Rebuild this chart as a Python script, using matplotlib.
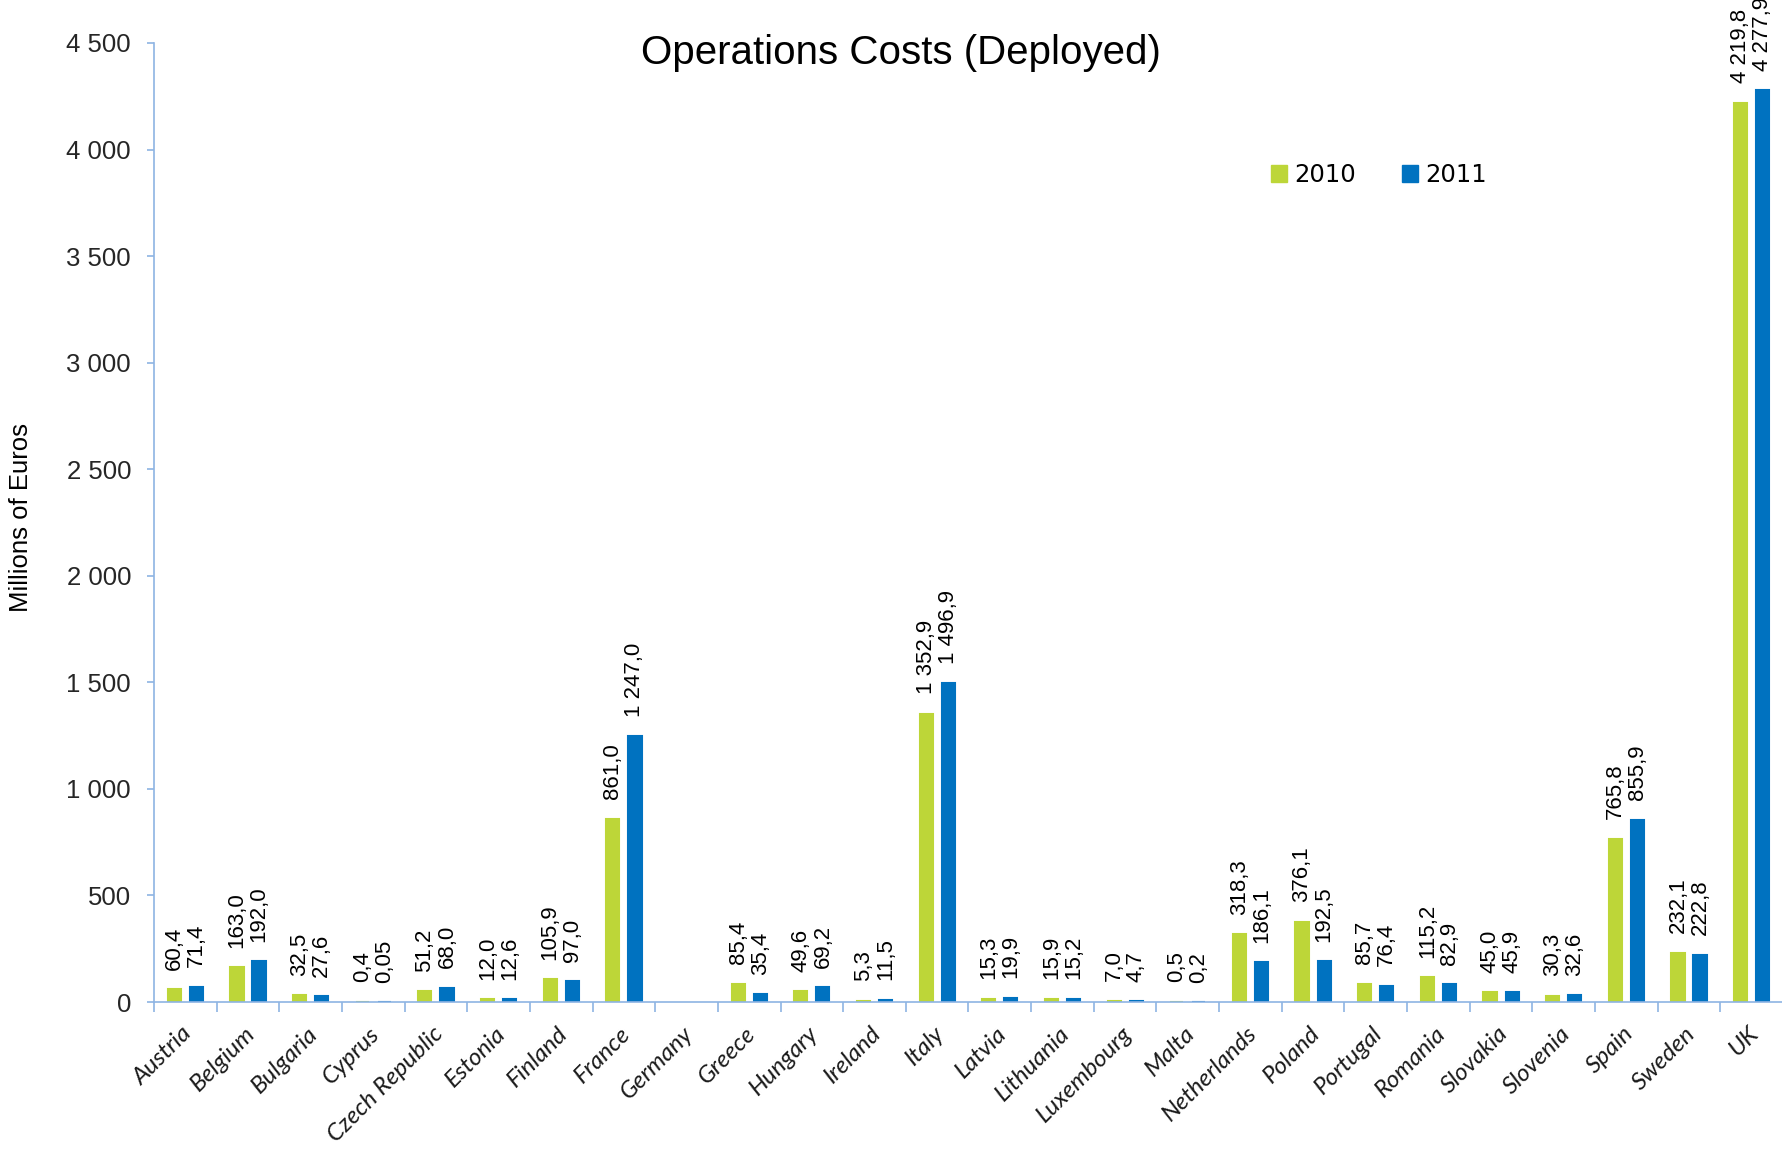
"""Operations Costs (Deployed): grouped bar chart, 2010 vs 2011."""

import matplotlib

matplotlib.use("Agg")
import matplotlib.pyplot as plt
import matplotlib.transforms as mtransforms
import numpy as np
from matplotlib.patches import Patch

countries = [
    "Austria", "Belgium", "Bulgaria", "Cyprus", "Czech Republic", "Estonia",
    "Finland", "France", "Germany", "Greece", "Hungary", "Ireland", "Italy",
    "Latvia", "Lithuania", "Luxembourg", "Malta", "Netherlands", "Poland",
    "Portugal", "Romania", "Slovakia", "Slovenia", "Spain", "Sweden", "UK",
]
costs_2010 = [
    60.4, 163.0, 32.5, 0.4, 51.2, 12.0, 105.9, 861.0, np.nan, 85.4, 49.6, 5.3,
    1352.9, 15.3, 15.9, 7.0, 0.5, 318.3, 376.1, 85.7, 115.2, 45.0, 30.3, 765.8,
    232.1, 4219.8,
]
costs_2011 = [
    71.4, 192.0, 27.6, 0.05, 68.0, 12.6, 97.0, 1247.0, np.nan, 35.4, 69.2, 11.5,
    1496.9, 19.9, 15.2, 4.7, 0.2, 186.1, 192.5, 76.4, 82.9, 45.9, 32.6, 855.9,
    222.8, 4277.9,
]
series_names = ["2010", "2011"]
y_ticks = list(range(0, 4501, 500))

GREEN = "#BDD638"
BLUE = "#0072C0"
AXIS_BLUE = "#8EB4E3"
W, H = 1783, 1152

plt.rcParams["font.family"] = ["Liberation Sans", "DejaVu Sans"]


def _fmt(value):
    text = f"{value:,.1f}" if abs(round(value, 1) - value) < 1e-9 else f"{value:,.2f}"
    return text.replace(",", " ").replace(".", ",")


fig = plt.figure(figsize=(W / 100, H / 100), dpi=100)
ax = fig.add_axes([154 / W, (H - 1002) / H, (W - 154) / W, (1002 - 43) / H])

x = np.arange(len(countries))
offset = 0.176
width = 0.21
for shift, values, color in ((-offset, costs_2010, GREEN), (offset, costs_2011, BLUE)):
    ax.bar(x + shift, values, width=width, color=color, edgecolor=color, linewidth=1.5)
    for xi, value in zip(x, values):
        if np.isnan(value):
            continue
        ax.annotate(
            _fmt(value), (xi + shift, value), xytext=(0, 14), textcoords="offset points",
            rotation=90, ha="center", va="bottom", fontsize=16, color="black",
        )

ax.set_xlim(-0.5, len(countries) - 0.5)
ax.set_ylim(0, 4500)

for side in ("top", "right"):
    ax.spines[side].set_visible(False)
for side in ("left", "bottom"):
    ax.spines[side].set_color(AXIS_BLUE)
    ax.spines[side].set_linewidth(1.2)

ax.set_yticks(y_ticks)
ax.set_yticklabels([f"{v:,}".replace(",", " ") for v in y_ticks])
ax.tick_params(axis="y", direction="out", length=5, width=1.2, color=AXIS_BLUE,
               pad=11.5, labelsize=18.5, labelcolor="#262626")

ax.set_xticks(x)
ax.set_xticks(np.arange(-0.5, len(countries), 1.0), minor=True)
ax.tick_params(axis="x", which="major", length=0, pad=15)
ax.tick_params(axis="x", which="minor", direction="out", length=7.2, width=1.2, color=AXIS_BLUE)
ax.set_xticklabels(countries, rotation=45, ha="right", va="top", rotation_mode="anchor",
                   fontsize=17.5, fontstyle="italic", family=["Lato", "DejaVu Sans"], color="#1a1a1a")
shift_px = mtransforms.ScaledTranslation(-4 / 100, 0, fig.dpi_scale_trans)
for label in ax.get_xticklabels():
    label.set_transform(label.get_transform() + shift_px)

fig.text(901 / W, 1 - 64 / H, "Operations Costs (Deployed)", ha="center", va="baseline",
         fontsize=29, color="black")
fig.text(21 / W, 1 - 517 / H, "Millions of Euros", rotation=90, ha="center", va="center",
         fontsize=18.5, color="black")

handles = [Patch(facecolor=GREEN, edgecolor=GREEN), Patch(facecolor=BLUE, edgecolor=BLUE)]
ax.legend(handles, series_names, loc="center", bbox_to_anchor=(1379 / W, 1 - 175 / H),
          bbox_transform=fig.transFigure, ncol=2, frameon=False, handlelength=0.65,
          handleheight=0.65, handletextpad=0.3, columnspacing=1.9,
          prop={"family": "DejaVu Sans", "size": 17.5})

fig.savefig("out.png", dpi=100)
